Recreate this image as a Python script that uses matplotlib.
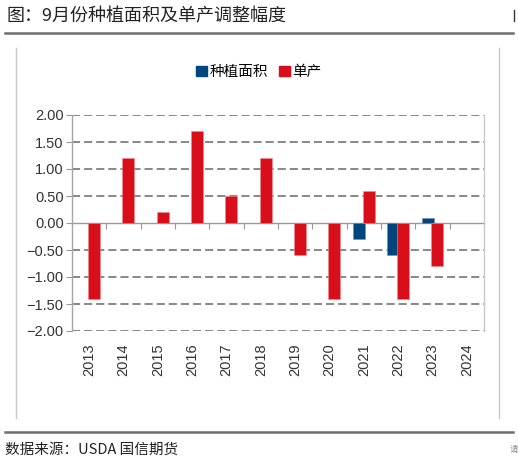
import matplotlib
matplotlib.use("Agg")
import matplotlib.pyplot as plt
import numpy as np
from matplotlib.lines import Line2D
from matplotlib.patches import Patch

plt.rcParams['font.family'] = ['Liberation Sans', 'Noto Sans CJK SC', 'DejaVu Sans']

years = ['2013', '2014', '2015', '2016', '2017', '2018', '2019', '2020', '2021', '2022', '2023', '2024']
area = [np.nan, np.nan, np.nan, np.nan, np.nan, np.nan, np.nan, np.nan, -0.3, -0.6, 0.1, np.nan]
yield_ = [-1.4, 1.2, 0.2, 1.7, 0.5, 1.2, -0.6, -1.4, 0.6, -1.4, -0.8, np.nan]
yticks = [-2.0, -1.5, -1.0, -0.5, 0.0, 0.5, 1.0, 1.5, 2.0]
series_names = ['种植面积', '单产']
title = '图：9月份种植面积及单产调整幅度'
source = '数据来源：USDA 国信期货'

BLUE = '#00457C'
RED = '#D90E1B'
W, H = 518, 465

fig = plt.figure(figsize=(W / 100, H / 100), dpi=100)
ax = fig.add_axes([72 / W, 1 - 331 / H, (484 - 72) / W, (331 - 115) / H])

x = np.arange(len(years))
off = 0.145
bw = 0.35
ax.bar(x - off, area, width=bw, color=BLUE, edgecolor='#6f8fb0', linewidth=0.4, zorder=3)
ax.bar(x + off, yield_, width=bw, color=RED, edgecolor='#f08a90', linewidth=0.4, zorder=4)

ax.set_xlim(-0.5, len(years) - 0.5)
ax.set_ylim(yticks[0], yticks[-1])
ax.set_yticks(yticks)
ax.set_yticklabels([f'{v:.2f}'.replace('-', '\u2212') for v in yticks], fontsize=10.5, color='#333333')
ax.tick_params(axis='y', length=4, width=0.8, color='#999999', pad=2)

ax.set_xticks(x)
ax.set_xticklabels(years, rotation=90, fontsize=10.5, color='#333333')
ax.tick_params(axis='x', length=0, pad=9)

for v in yticks:
    if v != 0:
        ax.axhline(v, color='#7f7f7f', lw=1.3, linestyle=(0, (4.5, 2.2)), zorder=1)

for s in ['top', 'bottom']:
    ax.spines[s].set_visible(False)
ax.spines['left'].set_color('#a6a6a6')
ax.spines['left'].set_linewidth(1.0)
ax.spines['right'].set_color('#c8c8c8')
ax.spines['right'].set_linewidth(1.0)

# zero axis with category boundary ticks
sec = ax.secondary_xaxis(0.5)
sec.set_xticks(np.arange(len(years) - 1) + 0.5)
sec.set_xticklabels([])
sec.xaxis.set_ticks_position('bottom')
sec.tick_params(axis='x', which='both', direction='out', length=4, width=0.8, color='#999999',
                labelbottom=False, labeltop=False)
for s in sec.spines.values():
    s.set_color('#999999')
    s.set_linewidth(1.0)

# legend
handles = [Patch(facecolor=BLUE, edgecolor=BLUE), Patch(facecolor=RED, edgecolor=RED)]
fig.legend(handles, series_names, loc='center', bbox_to_anchor=(0.5, 1 - 72 / H),
           ncol=2, frameon=False, handlelength=0.75, handleheight=0.75, handletextpad=0.15,
           columnspacing=0.8, prop={'family': ['Noto Sans CJK SC'], 'size': 10.5})

# title and rules
fig.text(7 / W, 1 - 16 / H, title, fontsize=13, va='center', ha='left',
         family=['Noto Sans CJK SC', 'DejaVu Sans'], color='#222222')
fig.add_artist(Line2D([5 / W, 513 / W], [1 - 33.5 / H] * 2, color='#6f6f6f', lw=1.8))
fig.add_artist(Line2D([513.5 / W, 513.5 / W], [1 - 10 / H, 1 - 21 / H], color='#333333', lw=1.0))
fig.add_artist(Line2D([16 / W, 16 / W], [1 - 48 / H, 1 - 418 / H], color='#c8c8c8', lw=1.0))
fig.add_artist(Line2D([499 / W, 499 / W], [1 - 48 / H, 1 - 418 / H], color='#c8c8c8', lw=1.0))
fig.add_artist(Line2D([5 / W, 513 / W], [1 - 432 / H] * 2, color='#6f6f6f', lw=1.8))
fig.text(5 / W, 1 - 449.5 / H, source, fontsize=10.5, va='center', ha='left',
         family=['Noto Sans CJK SC', 'DejaVu Sans'], color='#222222')
fig.text(517.5 / W, 1 - 449.5 / H, '请', fontsize=6, va='center', ha='right',
         family=['Noto Sans CJK SC'], color='#888888')

fig.savefig('out.png', dpi=100)
